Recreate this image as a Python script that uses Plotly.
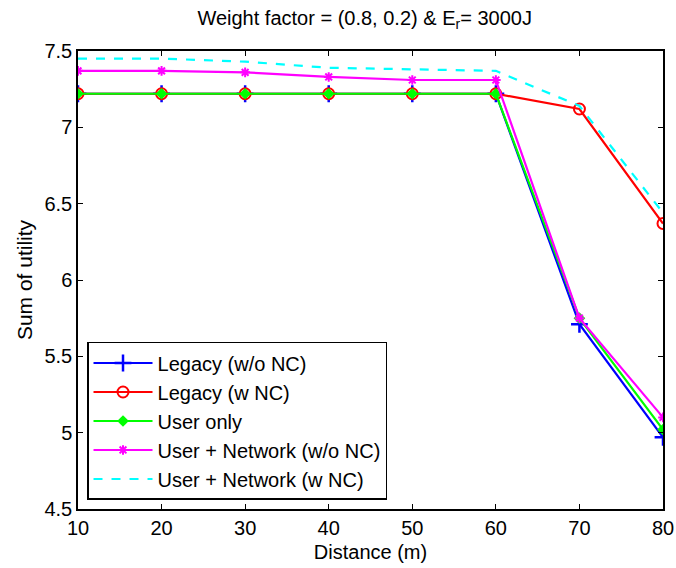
import plotly.graph_objects as go

distance = [10, 20, 30, 40, 50, 60, 70, 80]

legacy_wo_nc = [7.22, 7.22, 7.22, 7.22, 7.22, 7.22, 5.71, 4.97]
legacy_w_nc = [7.22, 7.22, 7.22, 7.22, 7.22, 7.22, 7.12, 6.37]
user_only = [7.22, 7.22, 7.22, 7.22, 7.22, 7.22, 5.75, 5.02]
user_net_wo_nc = [7.37, 7.37, 7.36, 7.33, 7.31, 7.31, 5.75, 5.10]
user_net_w_nc = [7.45, 7.45, 7.43, 7.39, 7.38, 7.37, 7.14, 6.44]

series = [
    ("Legacy (w/o NC)", legacy_wo_nc, "#0000ff", "solid", dict(symbol="cross-thin-open", size=12, line=dict(width=2.5, color="#0000ff"))),
    ("Legacy (w NC)", legacy_w_nc, "#ff0000", "solid", dict(symbol="circle-open", size=11, line=dict(width=2, color="#ff0000"))),
    ("User only", user_only, "#00ff00", "solid", dict(symbol="diamond", size=9, color="#00ff00")),
    ("User + Network (w/o NC)", user_net_wo_nc, "#ff00ff", "solid", dict(symbol="asterisk-open", size=8, line=dict(width=2, color="#ff00ff"))),
    ("User + Network (w NC)", user_net_w_nc, "#00ffff", "dash", None),
]

fig = go.Figure()
for name, vals, color, dash, marker in series:
    fig.add_trace(go.Scatter(
        x=distance, y=vals, name=name,
        mode="lines+markers" if marker else "lines",
        line=dict(color=color, width=2.2, dash=dash),
        marker=marker,
    ))

axis_common = dict(
    showline=True, linecolor="black", linewidth=1.5, mirror="ticks",
    ticks="inside", ticklen=5, tickcolor="black", tickwidth=1,
    showgrid=False, zeroline=False, automargin=False,
    tickfont=dict(family="Liberation Sans, Arial", size=20, color="black"),
)

fig.update_layout(
    width=676, height=568,
    margin=dict(l=78, r=13, t=51, b=59),
    paper_bgcolor="white", plot_bgcolor="white",
    font=dict(family="Liberation Sans, Arial", color="black"),
    title=dict(
        text="Weight factor = (0.8, 0.2) & E<sub>r</sub>= 3000J",
        x=0.49, xref="paper", xanchor="center",
        y=1 - 18 / 568, yref="container", yanchor="middle",
        font=dict(size=20, color="black"),
    ),
    xaxis=dict(
        range=[10, 80], tickvals=distance,
        title=dict(text="Distance (m)", standoff=7, font=dict(size=20)),
        **axis_common,
    ),
    yaxis=dict(
        range=[4.5, 7.5], tickvals=[4.5, 5, 5.5, 6, 6.5, 7, 7.5],
        ticktext=["4.5", "5", "5.5", "6", "6.5", "7", "7.5"],
        title=dict(text="Sum of utility", standoff=6, font=dict(size=21)),
        **axis_common,
    ),
    legend=dict(
        x=0.0154, y=0.0197, xanchor="left", yanchor="bottom",
        bgcolor="white", bordercolor="black", borderwidth=1.5,
        font=dict(size=20, color="black"),
        tracegroupgap=0, itemwidth=59,
    ),
    showlegend=True,
)

fig.write_html("out.html")
